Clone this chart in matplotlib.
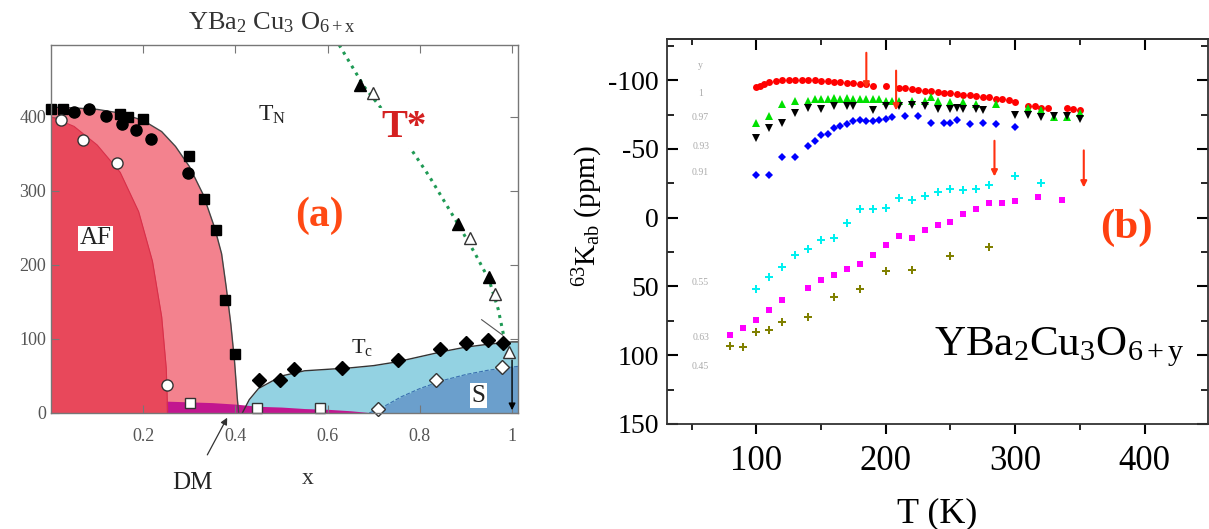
import matplotlib
matplotlib.use('Agg')
import matplotlib.pyplot as plt

plt.rcParams['font.family'] = 'serif'
plt.rcParams['font.serif'] = ['Liberation Serif', 'DejaVu Serif']
plt.rcParams['mathtext.fontset'] = 'custom'
plt.rcParams['mathtext.rm'] = 'Liberation Serif'
plt.rcParams['mathtext.it'] = 'Liberation Serif:italic'
plt.rcParams['mathtext.bf'] = 'Liberation Serif:bold'
plt.rcParams['mathtext.default'] = 'regular'
plt.rcParams['axes.unicode_minus'] = False

# ---- panel (a): phase diagram ----
# boundaries
tn_x = [0, 0.05, 0.1, 0.15, 0.2, 0.24, 0.27, 0.3, 0.33, 0.355, 0.37, 0.38, 0.39, 0.398, 0.404, 0.407]
tn_y = [413, 412, 410, 405, 395, 380, 360, 333, 295, 250, 215, 170, 120, 70, 20, 0]
af_x = [0, 0.05, 0.1, 0.15, 0.19, 0.22, 0.24, 0.25, 0.253]
af_y = [400, 387, 362, 325, 272, 205, 130, 60, 0]
tc_x = [0.415, 0.43, 0.45, 0.5, 0.55, 0.6, 0.65, 0.7, 0.75, 0.8, 0.85, 0.9, 0.95, 1.0, 1.013]
tc_y = [0, 18, 33, 50, 57, 59, 61, 64, 69, 76, 83, 89, 93, 96, 96]
s_x = [0.69, 0.72, 0.76, 0.8, 0.85, 0.9, 0.95, 1.0, 1.013]
s_y = [0, 8, 22, 33, 44, 52, 58, 62, 63]
dm_x = [0.25, 0.3, 0.35, 0.4, 0.45, 0.5, 0.55, 0.6, 0.65, 0.7]
dm_y = [16, 15, 14, 12, 9, 8, 6, 5, 3, 0]
tstar_x = [0.625, 0.68, 0.75, 0.82, 0.88, 0.92, 0.95, 0.97, 0.985]
tstar_y = [497, 440, 385, 320, 258, 215, 180, 140, 95]

# data points
tn_sq_x = [0.0, 0.026, 0.149, 0.166, 0.2, 0.30, 0.332, 0.358, 0.378, 0.399]
tn_sq_y = [410, 410, 404, 400, 397, 347, 289, 247, 153, 79]
tn_ci_x = [0.049, 0.082, 0.12, 0.155, 0.185, 0.216, 0.297]
tn_ci_y = [407, 410, 401, 390, 382, 370, 324]
af_ci_x = [0.022, 0.07, 0.143, 0.252]
af_ci_y = [396, 368, 338, 38]
dm_sq_x = [0.302, 0.446, 0.584]
dm_sq_y = [14, 7, 7]
tc_di_x = [0.451, 0.496, 0.528, 0.631, 0.752, 0.843, 0.901, 0.948, 0.981]
tc_di_y = [45, 45, 59, 61, 71, 86, 95, 98, 95]
s_di_x = [0.71, 0.834, 0.978]
s_di_y = [5, 44, 62]
ts_fill_x = [0.67, 0.882, 0.949]
ts_fill_y = [443, 255, 184]
ts_open_x = [0.699, 0.908, 0.964, 0.994]
ts_open_y = [432, 236, 161, 82]

# ---- panel (b): 63K_ab vs T ----
red_T = [100, 103, 106, 110, 115, 120, 125, 130, 135, 140, 145, 150, 155, 160, 165, 170, 175, 180, 185, 190,
         200, 210, 215, 220, 225, 230, 235, 240, 245, 250, 255, 260, 265, 270, 275, 280, 285, 290, 295, 300,
         310, 315, 320, 325, 340, 345, 350]
red_K = [-95, -96, -97, -99, -99.5, -100, -100, -100.5, -100, -100, -100, -99.5, -99.5, -99, -98.5, -98, -98, -97.5, -97, -96,
         -96, -94, -94, -93.5, -93, -92.5, -92, -91.5, -91, -90.5, -90, -89.5, -89, -88.5, -88, -87.5, -86.5, -86, -85.5, -84,
         -81, -81, -80, -80, -79.5, -79, -78]
green_T = [100, 110, 120, 130, 140, 145, 150, 155, 160, 165, 170, 175, 180, 185, 190, 195, 200, 205, 210, 220,
           230, 235, 240, 250, 260, 270, 285, 310, 320, 330, 340, 350]
green_K = [-69, -74, -83, -85, -85, -86, -86, -86, -87, -86, -87, -86, -86, -86, -86, -86, -85, -85, -85, -85,
           -85, -88, -85, -84, -84, -83, -83, -80, -78, -73, -73, -76]
black_T = [100, 110, 120, 130, 140, 150, 160, 170, 175, 190, 200, 210, 220, 230, 240, 250, 255, 260, 270, 275,
           300, 310, 320, 330, 340, 350]
black_K = [-58, -65, -69, -76, -80, -79, -81, -81, -81, -78, -81, -81, -82, -81, -79, -79, -80, -79, -79, -78,
           -75, -75, -73, -74, -74, -72]
blue_T = [100, 110, 120, 130, 140, 145, 150, 155, 160, 165, 170, 175, 180, 185, 190, 195, 200, 205, 215, 225,
          235, 245, 250, 255, 265, 275, 285, 300]
blue_K = [-31, -31, -44, -44, -52, -56, -60, -61, -65, -67, -68, -70, -71, -70, -70, -71, -72, -73, -74, -74,
          -69, -69, -69, -71, -68, -69, -68, -66]
cyan_T = [100, 110, 120, 130, 140, 150, 160, 170, 180, 190, 200, 210, 220, 230, 240, 250, 260, 270, 280, 300, 320]
cyan_K = [52, 43, 36, 27, 23, 16, 15, 4, -6, -6, -7, -14, -13, -16, -19, -21, -20, -21, -24, -30, -25]
mag_T = [80, 90, 100, 110, 120, 140, 150, 160, 170, 180, 190, 200, 210, 220, 230, 240, 250, 260, 270, 280,
         290, 300, 318, 336]
mag_K = [85, 80, 74.5, 67, 60, 51, 45, 42, 37, 34, 27, 20, 13, 15, 9, 5, 3, -3, -6, -11, -11, -12, -15, -13]
olive_T = [80, 90, 100, 110, 120, 140, 160, 180, 200, 220, 250, 280]
olive_K = [93, 94, 83, 82, 76, 72, 58, 52, 39, 38, 28, 21]

arrow_T = [185, 208, 284, 353]
arrow_top = [-122, -109, -58, -51]
arrow_tip = [-92, -76, -28, -20]

side_labels = ['y', '1', '0.97', '0.93', '0.91', '0.55', '0.63', '0.45']
side_pos = [-111, -90, -73, -52, -33, 47, 87, 108]

fig = plt.figure(figsize=(12.09, 5.29), dpi=100)

# ================= panel (a) =================
axa = fig.add_axes([0.0422, 0.2193, 0.3863, 0.6957])
pink = '#f3828e'
dark = '#e8485b'
light_blue = '#93d2e2'
s_blue = '#6b9fcc'
dm_col = '#c2168f'

axa.fill_between(tn_x, 0, tn_y, color=pink, lw=0)
axa.fill_between(af_x, 0, af_y, color=dark, lw=0)
axa.plot(af_x, af_y, color='#d8304a', lw=0.8)
axa.fill_between(tc_x, 0, tc_y, color=light_blue, lw=0)
axa.fill_between(s_x, 0, s_y, color=s_blue, lw=0)
axa.plot(s_x, s_y, color='#3a6fb0', lw=0.8, ls='--')
axa.fill_between(dm_x, 0, dm_y, color=dm_col, lw=0)
axa.plot(tn_x, tn_y, color='#444444', lw=1.0)
axa.plot(tc_x, tc_y, color='#333333', lw=1.0)
axa.plot(tstar_x, tstar_y, color='#1f9a55', ls=':', lw=2.2)

axa.plot(tn_sq_x, tn_sq_y, 's', color='black', ms=7, clip_on=False)
axa.plot(tn_ci_x, tn_ci_y, 'o', color='black', ms=8)
axa.plot(af_ci_x, af_ci_y, 'o', mfc='white', mec='#333333', ms=8)
axa.plot(dm_sq_x, dm_sq_y, 's', mfc='white', mec='#333333', ms=7, clip_on=False)
axa.plot(tc_di_x, tc_di_y, 'D', color='black', ms=7)
axa.plot(s_di_x, s_di_y, 'D', mfc='white', mec='#333333', ms=7, clip_on=False)
axa.plot(ts_fill_x, ts_fill_y, '^', color='black', ms=9)
axa.plot(ts_open_x, ts_open_y, '^', mfc='white', mec='#333333', ms=9)

# tangent mark near Tc(x=1)
axa.plot([0.934, 0.98], [126, 105], color='#555555', lw=0.8)
axa.annotate('', xy=(1.0, 0), xytext=(1.0, 75),
             arrowprops=dict(arrowstyle='-|>', color='black', lw=1.0, mutation_scale=10))

axa.text(0.765, 385, 'T*', color='#d42020', fontsize=28, fontweight='bold', ha='center', va='center',
         bbox=dict(facecolor='white', edgecolor='none', pad=1))
axa.text(0.582, 266, '(a)', color='#ff4a14', fontsize=30, fontweight='bold', ha='center', va='center')
axa.text(0.097, 236, 'AF', fontsize=18, color='#222222', ha='center', va='center',
         bbox=dict(facecolor='white', edgecolor='none', pad=1))
axa.text(0.48, 402, 'T$_N$', fontsize=17, color='#222222', ha='center', va='center')
axa.text(0.675, 89, 'T$_c$', fontsize=16, color='#222222', ha='center', va='center')
axa.text(0.927, 23, 'S', fontsize=18, color='#222222', ha='center', va='center',
         bbox=dict(facecolor='white', edgecolor='none', pad=1))
axa.annotate('DM', xy=(0.385, -3), xytext=(0.306, -95), fontsize=18, color='#222222',
             ha='center', va='center', annotation_clip=False,
             arrowprops=dict(arrowstyle='-|>', color='#333333', lw=0.9, mutation_scale=10, shrinkA=12))
axa.text(0.478, 527, 'YBa$_2$ Cu$_3$ O$_{6+x}$', fontsize=19, color='#333333', ha='center', va='center')

axa.set_xlim(0, 1.013)
axa.set_ylim(0, 497)
axa.set_xticks([0.2, 0.4, 0.6, 0.8, 1.0])
axa.set_xticklabels(['0.2', '0.4', '0.6', '0.8', '1'])
axa.set_yticks([0, 100, 200, 300, 400])
axa.tick_params(direction='in', top=True, right=True, length=6, color='#777777',
                labelcolor='#555555', labelsize=13)
axa.tick_params(axis='x', pad=11)
axa.set_xlabel('x', fontsize=17, color='#333333')
axa.xaxis.set_label_coords(0.55, -0.15)
for sp in axa.spines.values():
    sp.set_color('#777777')
    sp.set_linewidth(1.0)

# ================= panel (b) =================
axb = fig.add_axes([0.5517, 0.1985, 0.4475, 0.7278])
axb.plot(red_T, red_K, 'o', color='#ff0000', ms=5, mew=0)
axb.plot(green_T, green_K, '^', color='#00e000', ms=6, mew=0)
axb.plot(black_T, black_K, 'v', color='black', ms=6, mew=0)
axb.plot(blue_T, blue_K, 'D', color='#0000ff', ms=4.5, mew=0)
axb.plot(cyan_T, cyan_K, 'P', color='#00f0f0', ms=5.5, mew=0)
axb.plot(mag_T, mag_K, 's', color='#ff00ff', ms=4.5, mew=0)
axb.plot(olive_T, olive_K, 'P', color='#808000', ms=5.5, mew=0)

for t, k0, k1 in zip(arrow_T, arrow_top, arrow_tip):
    axb.annotate('', xy=(t, k1), xytext=(t, k0),
                 arrowprops=dict(arrowstyle='-|>', color='#ff3010', lw=1.5, mutation_scale=9))

for lab, pos in zip(side_labels, side_pos):
    axb.text(57, pos, lab, fontsize=7, color='#aaaaaa', ha='center', va='center')

axb.text(386, 7, '(b)', color='#ff4010', fontsize=31, fontweight='bold', ha='center', va='center')
axb.text(237, 100, 'YBa$_2$Cu$_3$O$_{6+y}$', fontsize=31, color='black', ha='left', va='baseline')

axb.set_xlim(31, 449)
axb.set_ylim(150, -130)
axb.set_xticks([100, 200, 300, 400])
axb.set_xticks([50, 150, 250, 350], minor=True)
axb.set_yticks([-100, -50, 0, 50, 100, 150])
axb.set_yticks([-125, -75, -25, 25, 75, 125], minor=True)
axb.tick_params(axis='x', which='major', direction='out', length=7, width=1.5, labelsize=25, pad=8)
axb.tick_params(axis='x', which='minor', direction='out', length=4, width=1.2)
axb.tick_params(axis='y', which='major', direction='in', right=True, length=8, width=1.5, labelsize=20, pad=6)
axb.tick_params(axis='y', which='minor', direction='in', right=True, length=5, width=1.2)
top = axb.secondary_xaxis('top')
top.set_xticks([100, 200, 300, 400])
top.set_xticks([50, 150, 250, 350], minor=True)
top.tick_params(which='major', direction='in', length=8, width=1.5, labeltop=False)
top.tick_params(which='minor', direction='in', length=4, width=1.2)
top.spines['top'].set_linewidth(1.3)
top.spines['top'].set_color('#333333')
for sp in axb.spines.values():
    sp.set_color('#333333')
    sp.set_linewidth(1.3)

axb.set_xlabel('T (K)', fontsize=26)
axb.xaxis.set_label_coords(0.5, -0.19)
axb.set_ylabel('$^{63}$K$_{ab}$ (ppm)', fontsize=21)
axb.yaxis.set_label_coords(-0.115, 0.54)

fig.savefig('out.png', dpi=100)
